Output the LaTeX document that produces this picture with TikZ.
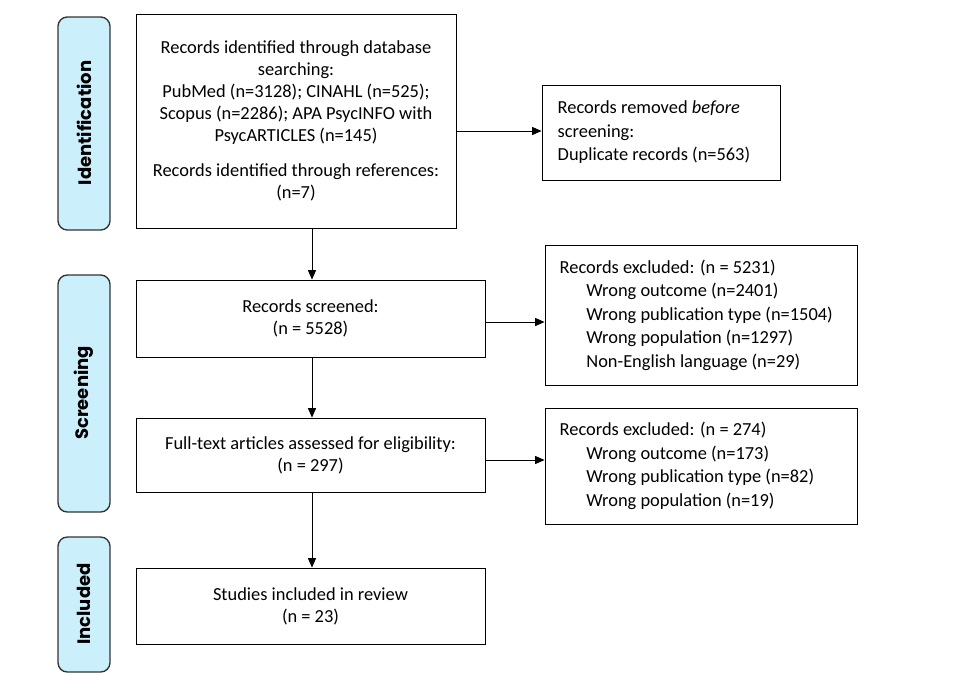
\documentclass[tikz,border=0pt]{standalone}
\usepackage{fontspec}
\setmainfont{Carlito}
\newfontfamily\sidefont{Poppins}
\usetikzlibrary{arrows.meta}
\begin{document}
\begin{tikzpicture}[x=0.75pt,y=-0.75pt,
  box/.style={draw,line width=0.7pt,inner sep=0pt},
  side/.style={draw=black!80,line width=1pt,fill=cyan!20!white,rounded corners=7pt},
  sidetext/.style={rotate=90,font=\sidefont\bfseries\fontsize{13.5}{15}\selectfont},
  txt/.style={font=\fontsize{13.8}{16.5}\selectfont,align=center},
  ltxt/.style={font=\fontsize{13.8}{17.6}\selectfont,align=left,anchor=west},
  arr/.style={-{Triangle[length=7pt,width=6pt]},line width=0.6pt}]
\useasboundingbox (0,0) rectangle (975,687);
% side bars
\draw[side] (58,17) rectangle (110,230);
\node[sidetext] (sid) at (84,123) {Identification};
\draw[side] (58,275) rectangle (110,512);
\node[sidetext] (ssc) at (84,393) {Screening};
\draw[side] (58,537) rectangle (110,672);
\node[sidetext] (sin) at (84,604) {Included};
% boxes
\node[box,minimum width=240pt,minimum height=160.5pt] (b1) at (296,121) {};
\node[txt] (t1) at (296,121) {Records identified through database\\searching:\\PubMed (n=3128); CINAHL (n=525);\\Scopus (n=2286); APA PsycINFO with\\PsycARTICLES (n=145)\\[10pt]Records identified through references:\\(n=7)};
\node[box,minimum width=178.5pt,minimum height=71.25pt] (b2) at (661,132.5) {};
\node[ltxt] (t2) at (553,132.5) {Records removed \emph{before}\\screening:\\Duplicate records (n=563)};
\node[box,minimum width=261.75pt,minimum height=57.75pt] (b3) at (310.5,318.5) {};
\node[txt] (t3) at (310.5,318.5) {Records screened:\\(n = 5528)};
\node[box,minimum width=234pt,minimum height=105pt] (b4) at (701,315) {};
\node[ltxt] (t4) at (555,315) {Records excluded: (n = 5231)\\\hspace*{20pt}Wrong outcome (n=2401)\\\hspace*{20pt}Wrong publication type (n=1504)\\\hspace*{20pt}Wrong population (n=1297)\\\hspace*{20pt}Non-English language (n=29)};
\node[box,minimum width=261.75pt,minimum height=55.5pt] (b5) at (310.5,455) {};
\node[txt] (t5) at (310.5,455) {Full-text articles assessed for eligibility:\\(n = 297)};
\node[box,minimum width=234pt,minimum height=87pt] (b6) at (701,466) {};
\node[ltxt] (t6) at (555,466) {Records excluded: (n = 274)\\\hspace*{20pt}Wrong outcome (n=173)\\\hspace*{20pt}Wrong publication type (n=82)\\\hspace*{20pt}Wrong population (n=19)};
\node[box,minimum width=261.75pt,minimum height=57pt] (b7) at (310.5,606) {};
\node[txt] (t7) at (310.5,606) {Studies included in review\\(n = 23)};
% arrows
\draw[arr] (b1.south -| 312,0) -- (b3.north -| 312,0);
\draw[arr] (b3.south -| 312,0) -- (b5.north -| 312,0);
\draw[arr] (b5.south -| 312,0) -- (b7.north -| 312,0);
\draw[arr] (b1.east |- 0,131) -- (b2.west |- 0,131);
\draw[arr] (b3.east |- 0,322) -- (b4.west |- 0,322);
\draw[arr] (b5.east |- 0,460) -- (b6.west |- 0,460);
\end{tikzpicture}
\end{document}
